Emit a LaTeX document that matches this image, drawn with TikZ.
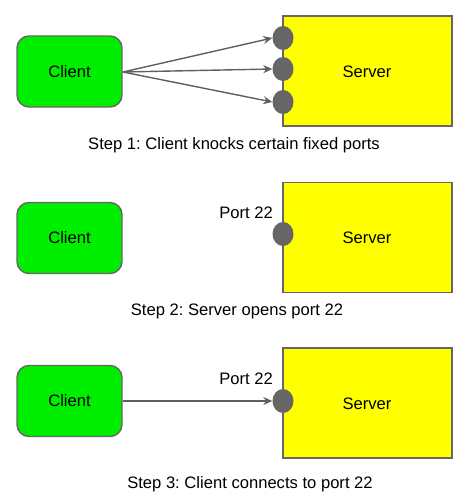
\documentclass[tikz,border=0pt]{standalone}
\usepackage{fontspec}
\setmainfont{Liberation Sans}
\usetikzlibrary{arrows.meta,shapes.geometric}
\definecolor{cgreen}{HTML}{00EE00}
\definecolor{syellow}{HTML}{FFFF00}
\definecolor{edgegray}{HTML}{666666}
\definecolor{portgray}{HTML}{666666}
\definecolor{arrowgray}{HTML}{5F5F5F}
\frenchspacing
\begin{document}
\begin{tikzpicture}[x=1pt,y=-1pt,
  every node/.style={font=\fontsize{16.6}{19}\selectfont},
  clientbox/.style={draw=edgegray,line width=1.4pt,fill=cgreen,rounded corners=12pt,minimum width=105pt,minimum height=71pt,inner sep=0pt},
  serverbox/.style={draw=edgegray,line width=1.4pt,fill=syellow,minimum width=169pt,minimum height=110pt,inner sep=0pt},
  portdot/.style={ellipse,fill=portgray,minimum width=21pt,minimum height=24pt,inner sep=0pt},
  knock/.style={draw=arrowgray,line width=1.4pt,-{Stealth[length=9pt,width=8pt]}},
  caption/.style={inner sep=0pt}]
\useasboundingbox (0,0) rectangle (470,500);
% Step 1
\node[clientbox] (c1) at (69.5,71.5) {Client};
\node[serverbox] (s1) at (367.5,71) {};
\node at (367,72) {Server};
\node[portdot] (p1a) at (283,38) {};
\node[portdot] (p1b) at (283,69) {};
\node[portdot] (p1c) at (283,102) {};
\coordinate (o1) at (123,72);
\draw[knock] (o1) -- (p1a.west);
\draw[knock] (o1) -- (p1b.west);
\draw[knock] (o1) -- (p1c.west);
\node[caption] (t1) at (234,145) {Step 1: Client knocks certain fixed ports};
% Step 2
\node[clientbox] (c2) at (69.5,238) {Client};
\node[serverbox] (s2) at (367.5,237.5) {};
\node at (367,238) {Server};
\node[portdot] (p2) at (283,234) {};
\node[anchor=east,inner sep=0pt] (l2) at (273,213) {Port 22};
\node[caption] (t2) at (237,311) {Step 2: Server opens port 22};
% Step 3
\node[clientbox] (c3) at (69.5,401) {Client};
\node[serverbox] (s3) at (367.5,403) {};
\node at (367,404) {Server};
\node[portdot] (p3) at (283,401) {};
\node[anchor=east,inner sep=0pt] (l3) at (273,379) {Port 22};
\draw[knock] (c3.east) -- (p3.west);
\node[caption] (t3) at (250,484) {Step 3: Client connects to port 22};
\end{tikzpicture}
\end{document}
